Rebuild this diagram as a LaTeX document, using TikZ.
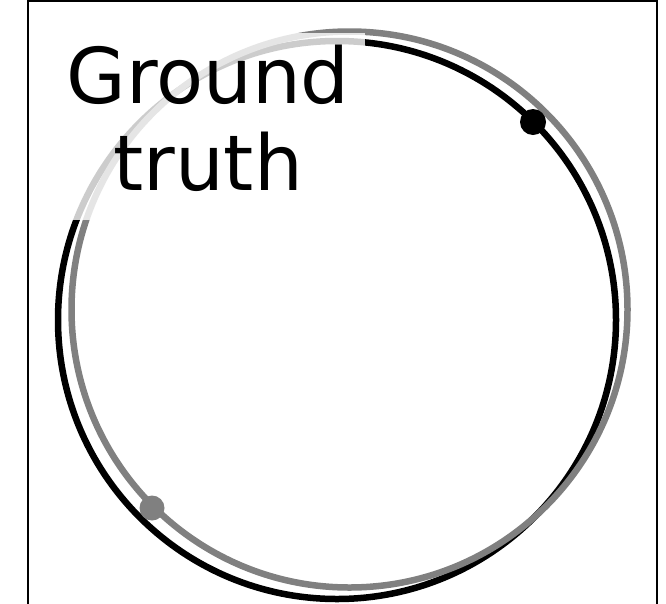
\documentclass[tikz,border=0pt]{standalone}
\usepackage{fontspec}
\newfontfamily\lblfont{DejaVu Sans}
\tikzset{
  frameline/.style={draw=black, line width=2pt},
  gtcurve/.style={draw=black, line width=6.5pt},
  predcurve/.style={draw=predgray, line width=6.5pt},
  gtdot/.style={circle, fill=black, inner sep=0pt, minimum size=26pt},
  preddot/.style={circle, fill=predgray, inner sep=0pt, minimum size=25pt},
  labelbox/.style={fill=white, fill opacity=0.8},
  labeltext/.style={inner sep=0pt, align=center, font=\lblfont\fontsize{77}{87}\selectfont}
}
\definecolor{predgray}{HTML}{808080}
\begin{document}
\begin{tikzpicture}[x=1pt, y=-1pt]
  \useasboundingbox (0,0) rectangle (666,603);
  \clip (0,0) rectangle (666,603);
  % axes frame (bottom edge lies outside the picture)
  \draw[frameline] (28.3,610) -- (28.3,1) -- (657,1) -- (657,610);
  % ground-truth contour and predicted contour
  \draw[gtcurve] (337,320) circle [radius=279];
  \draw[predcurve] (349.5,309.5) circle [radius=278];
  % points on the contours
  \node[gtdot] (gtpt) at (533,122) {};
  \node[preddot] (predpt) at (152,508) {};
  % translucent label box and label
  \fill[labelbox] (50,33) rectangle (365,219.5);
  \node[labeltext, anchor=north] (lbl) at (208,44.5) {Ground\\truth};
\end{tikzpicture}
\end{document}
